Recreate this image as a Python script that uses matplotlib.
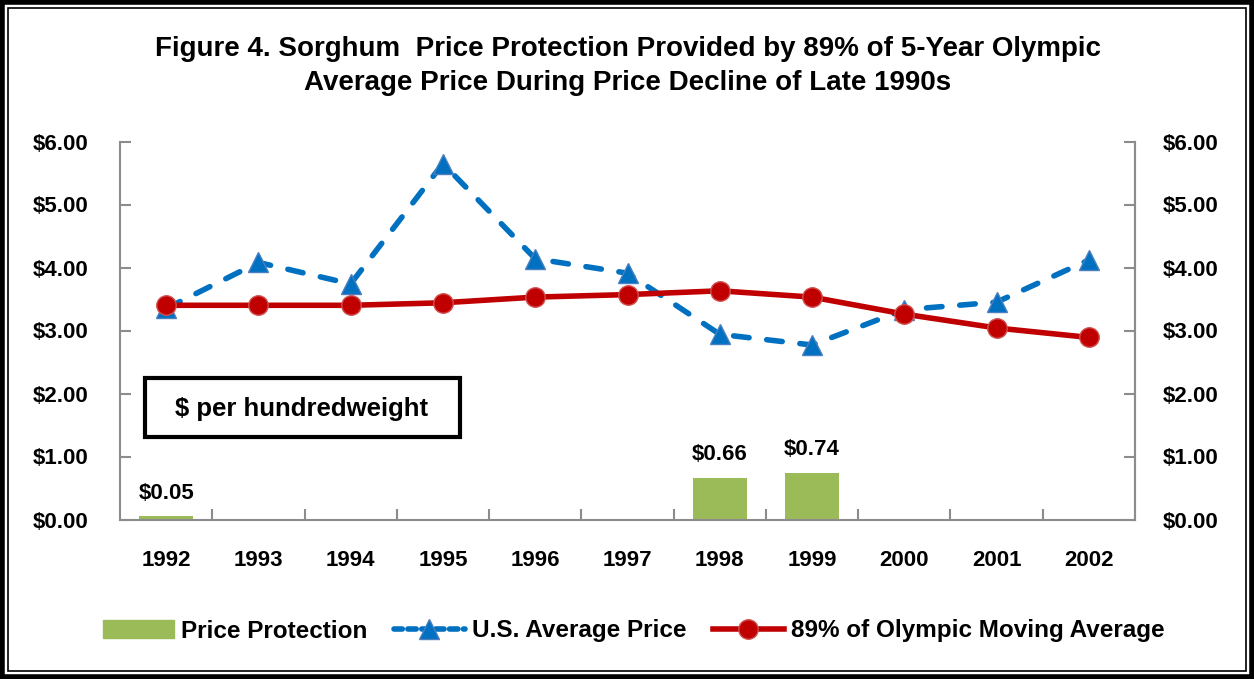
import matplotlib
matplotlib.use("Agg")
import matplotlib.pyplot as plt
from matplotlib.patches import Rectangle
from matplotlib.lines import Line2D
import numpy as np

years = ["1992", "1993", "1994", "1995", "1996", "1997", "1998", "1999", "2000", "2001", "2002"]
protection = [0.05, 0, 0, 0, 0, 0, 0.66, 0.74, 0, 0, 0]
us_price = [3.35, 4.08, 3.74, 5.65, 4.14, 3.91, 2.94, 2.77, 3.33, 3.45, 4.12]
olympic = [3.40, 3.40, 3.40, 3.44, 3.53, 3.57, 3.63, 3.53, 3.26, 3.04, 2.89]
ytick_vals = [0, 1, 2, 3, 4, 5, 6]
ytick_labels = ["$0.00", "$1.00", "$2.00", "$3.00", "$4.00", "$5.00", "$6.00"]

FONT = ["Liberation Sans Narrow", "Liberation Sans", "DejaVu Sans"]
plt.rcParams['font.family'] = FONT
plt.rcParams['font.weight'] = 'bold'

fig = plt.figure(figsize=(12.54, 6.79), dpi=100)
W, H = 1254, 679
ax = fig.add_axes([120 / W, 1 - 519.5 / H, (1135 - 120) / W, (519.5 - 141.5) / H])

x = np.arange(len(years))
green = "#9BBB59"
blue = "#0070C0"
red = "#C00000"

ax.bar(x, protection, width=0.58, color=green, zorder=2)
for xi, v in zip(x, protection):
    if v > 0:
        ax.text(xi, v + 0.2, f"${v:.2f}", ha='center', va='bottom', fontsize=16, fontweight='bold')

ax.plot(x, us_price, color=blue, lw=4, dashes=(2.8, 3.2), dash_capstyle='round', marker='^',
        markersize=14, markerfacecolor=blue, markeredgecolor="#4a7fc0", zorder=3)
ax.plot(x, olympic, color=red, lw=4, marker='o', markersize=14,
        markerfacecolor=red, markeredgecolor="#d05050", zorder=4)

ax.set_xlim(-0.5, len(years) - 0.5)
ax.set_ylim(0, 6)
ax.set_yticks(ytick_vals)
ax.set_yticklabels(ytick_labels, fontsize=16, fontweight='bold')
ax.set_xticks(x)
ax.set_xticklabels(years, fontsize=16, fontweight='bold')
ax.tick_params(axis='x', length=0, pad=22)
ax.set_xticks(np.arange(0.5, len(years) - 0.5, 1), minor=True)
ax.tick_params(axis='x', which='minor', direction='in', length=8, color='#8c8c8c', width=1.5)
ax.tick_params(axis='y', direction='in', length=8, color='#8c8c8c', width=1.5, pad=23)

ax.spines['top'].set_visible(False)
for s in ['left', 'bottom', 'right']:
    ax.spines[s].set_color('#8c8c8c')
    ax.spines[s].set_linewidth(1.5)

ax2 = ax.twinx()
ax2.set_ylim(0, 6)
ax2.set_yticks(ytick_vals)
ax2.set_yticklabels(ytick_labels, fontsize=16, fontweight='bold')
ax2.tick_params(axis='y', direction='in', length=8, color='#8c8c8c', width=1.5, pad=20)
for s in ['top', 'left', 'bottom']:
    ax2.spines[s].set_visible(False)
ax2.spines['right'].set_color('#8c8c8c')
ax2.spines['right'].set_linewidth(1.5)

# unit box
fig.patches.append(Rectangle((145 / W, 1 - 437 / H), 315 / W, 59 / H, transform=fig.transFigure,
                             fill=False, edgecolor='black', lw=3))
fig.text(302 / W, 1 - 409 / H, "$ per hundredweight", ha='center', va='center', fontsize=18.5, fontweight='bold')

# title
fig.text(628 / W, 1 - 66 / H, "Figure 4. Sorghum  Price Protection Provided by 89% of 5-Year Olympic\nAverage Price During Price Decline of Late 1990s",
         ha='center', va='center', fontsize=20, fontweight='bold', linespacing=1.35)

# legend
handles = [Rectangle((0, 0), 1, 1, color=green),
           Line2D([], [], color=blue, lw=4, dashes=(1.5, 1), dash_capstyle='round', marker='^',
                  markersize=14, markerfacecolor=blue, markeredgecolor="#4a7fc0"),
           Line2D([], [], color=red, lw=4, marker='o', markersize=14,
                  markerfacecolor=red, markeredgecolor="#d05050")]
fig.legend(handles, ["Price Protection", "U.S. Average Price", "89% of Olympic Moving Average"],
           loc='center', bbox_to_anchor=(634 / W, 1 - 631 / H), ncol=3, frameon=False,
           prop={'family': FONT, 'weight': 'bold', 'size': 17.5}, handlelength=2.9,
           handletextpad=0.3, columnspacing=1.1)

# border
fig.patches.append(Rectangle((2 / W, 2 / H), 1 - 4 / W, 1 - 4 / H, transform=fig.transFigure,
                             fill=False, edgecolor='black', lw=4))
fig.patches.append(Rectangle((8 / W, 8 / H), 1 - 16 / W, 1 - 16 / H, transform=fig.transFigure,
                             fill=False, edgecolor='black', lw=1.2))

fig.savefig("out.png", dpi=100)
